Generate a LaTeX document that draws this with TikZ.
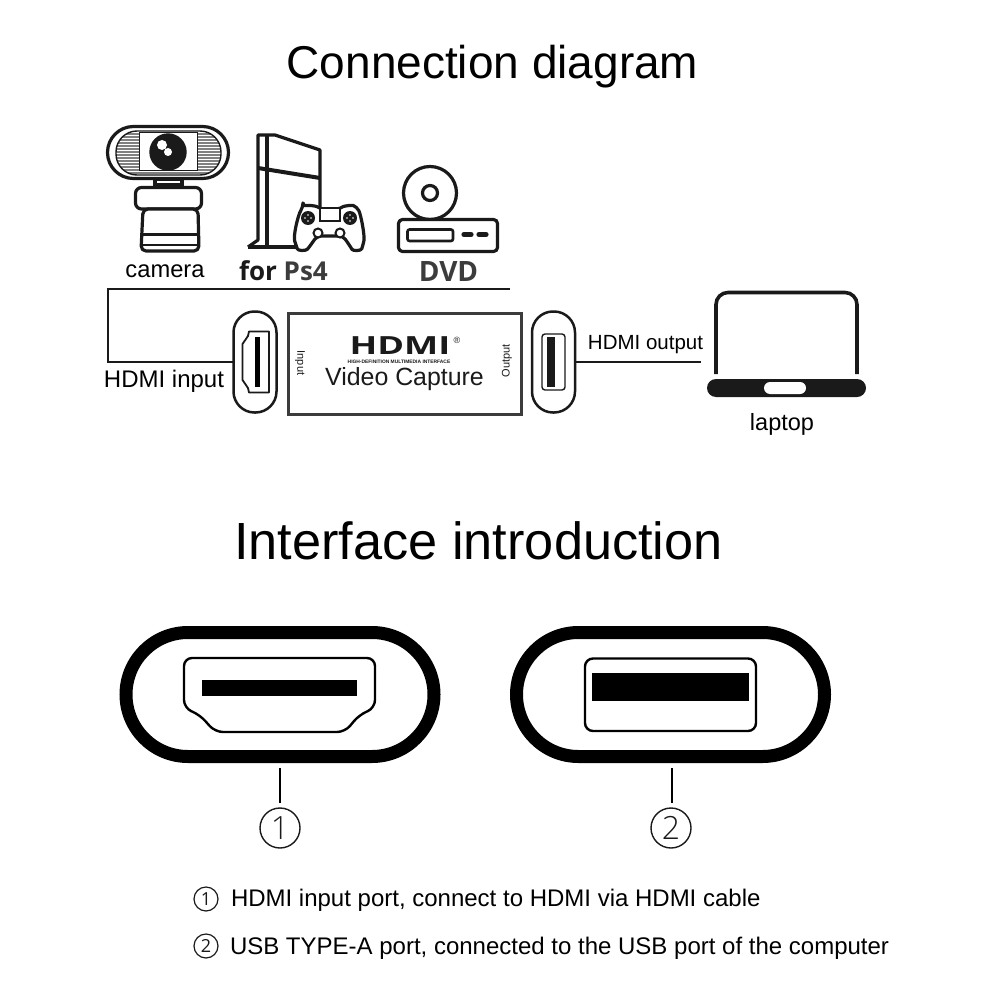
\documentclass[tikz,border=0pt]{standalone}
\usepackage{fontspec}
\setmainfont{Liberation Sans}
\newfontfamily\digitfont{Open Sans Light}
\newfontfamily\logofont{Open Sans}
\usetikzlibrary{shapes.misc}
\definecolor{ink}{HTML}{1A1A1A}
\definecolor{greyink}{HTML}{3C3C3C}
\newcommand{\px}[1]{\fontsize{\the\dimexpr#1pt/2\relax}{\the\dimexpr#1pt*3/5\relax}\selectfont}
\tikzset{
  lab/.style={inner sep=0pt,outer sep=0pt,text=black},
  pill/.style={rounded rectangle,draw=ink,fill=white,inner sep=0pt,outer sep=0pt},
  smallpill/.style={rectangle,rounded corners=10.5pt,draw=ink,fill=white,line width=1.25pt,inner sep=0pt,outer sep=0pt,minimum width=21.5pt,minimum height=50.5pt},
  bigpill/.style={rectangle,rounded corners=31pt,draw=black,fill=white,line width=6.5pt,inner sep=0pt,outer sep=0pt,minimum width=154pt,minimum height=62pt},
  wire/.style={draw=ink,line width=.7pt},
  leader/.style={draw=black,line width=1.1pt},
  icon/.style={draw=ink,line width=1.6pt,line join=round},
  numbig/.style={circle,draw=ink,line width=.7pt,inner sep=0pt,outer sep=0pt,minimum size=20pt,text=ink,font=\digitfont\px{32}},
  numsmall/.style={circle,draw=ink,line width=.6pt,inner sep=0pt,outer sep=0pt,minimum size=12pt,text=ink,font=\logofont\px{18}},
}
\begin{document}
\begin{tikzpicture}[x=.5pt,y=-.5pt]
\useasboundingbox (0,0) rectangle (1000,1000);
\fill[white] (0,0) rectangle (1000,1000);
% titles
\node[lab,font=\fontsize{23}{27}\selectfont] (title1) at (492.5,67) {Connection diagram};
\node[lab,font=\fontsize{26.15}{31}\selectfont] (title2) at (478.5,541) {Interface introduction};
% camera
\draw[icon] (155,179) rectangle (182,187);
\fill[ink] (155,183) rectangle (182,187);
\draw[icon,fill=white,rounded corners=13pt] (107.5,126.5) rectangle (228.5,178.5);
\begin{scope}
\clip[rounded corners=10.5pt] (116,131) rectangle (221,175);
\fill[white] (116,131) rectangle (221,175);
\foreach \yy in {134,137,...,173} \draw[gray,line width=.6pt] (116,\yy) -- (221,\yy);
\end{scope}
\draw[ink,line width=.7pt,rounded corners=10.5pt] (116,131) rectangle (221,175);
\draw[ink,line width=.5pt,fill=white] (139,133) rectangle (197,171);
\fill[ink] (168,152) circle (18.7);
\fill[white] (162,145) circle (5);
\fill[white] (168,152) circle (4);
\draw[icon,fill=white,rounded corners=3pt] (135.5,187.5) rectangle (201.5,209);
\draw[icon,fill=white,rounded corners=2.5pt] (143,209) -- (198,209) -- (199,251) -- (141,251) -- cycle;
\fill[ink] (143,233.5) rectangle (198,236.5);
\draw[ink,line width=.8pt] (142,245) -- (199,245);
% console
\draw[icon] (248,247) -- (258,240) -- (258,135) -- (275,135) -- (320,150) -- (320,215);
\draw[ink,line width=2.4pt] (267,135) -- (267,247);
\draw[ink,line width=2pt] (258,168) -- (320,178);
\draw[icon] (248,247) -- (300,247);
% controller
\draw[icon,fill=white,rounded corners=2pt]
  (303,207) .. controls (308,205) and (316,206) .. (320,209) -- (340,209)
  .. controls (344,206) and (352,205) .. (357,207)
  .. controls (361,215) and (365,236) .. (363,245)
  .. controls (361,251) and (353,251) .. (350,246)
  -- (343,236) -- (317,236) -- (310,246)
  .. controls (306,251) and (298,251) .. (296,245)
  .. controls (293,236) and (298,215) .. (303,207) -- cycle;
\draw[ink,line width=1pt,fill=white] (320,208) rectangle (340,221);
\fill[ink] (308,218) circle (7);
\fill[ink] (350,218) circle (7);
\foreach \cx in {308,350}{\foreach \dx/\dy in {-3/0,3/0,0/-3,0/3}{\fill[white] (\cx+\dx,218+\dy) circle (.9);}}
\draw[ink,line width=1pt,fill=white] (318,233) circle (4.5);
\draw[ink,line width=1pt,fill=white] (340,233) circle (4.5);
% dvd
\draw[icon,fill=white] (430,193) circle (26.5);
\draw[icon,fill=white] (430,193) circle (7.5);
\draw[icon,fill=white,rounded corners=2pt] (398.5,219.5) rectangle (497.5,251.5);
\draw[ink,line width=1.3pt,rounded corners=1pt,fill=white] (407.5,229.5) rectangle (453,241);
\draw[ink,line width=2.6pt,line cap=round] (464,234.5) -- (471,234.5);
\draw[ink,line width=2.6pt,line cap=round] (479,234.5) -- (486,234.5);
% device labels
\node[lab,font=\px{23.7}] (lcam) at (165,271) {camera};
\node[lab,anchor=base west,font=\logofont\bfseries\px{26},text=ink] (lps) at (239,280) {for \textcolor{greyink}{Ps4}};
\node[lab,anchor=base,font=\logofont\bfseries\px{28},text=greyink] (ldvd) at (448.5,281) {DVD};
% ports
\node[smallpill] (inport) at (255,362) {};
\node[smallpill] (outport) at (553.5,362) {};
\draw[ink,line width=.9pt,line join=round] (249,331.5) -- (269,331.5) -- (269,392.5) -- (249,392.5) -- (248,388) -- (242.5,380) -- (242.5,344) -- (248,336) -- cycle;
\fill[black] (255,337) rectangle (260,387);
\draw[ink,line width=.7pt,rounded corners=1.5pt] (542,334) rectangle (565,390);
\fill[ink] (547,337) rectangle (555,387);
% device
\node[rectangle,draw=greyink,line width=1.5pt,fill=white,minimum width=116.5pt,minimum height=50.5pt,inner sep=0pt,outer sep=0pt] (capture) at (404.5,363.5) {};
\node[lab,font=\logofont\bfseries\px{25},xscale=1.45,text=ink] (hdmilogo) at (400,345.5) {HDMI};
\node[lab,font=\px{9},text=ink] (reg) at (457,340) {®};
\node[lab,font=\bfseries\px{4.9},text=ink] (hdmisub) at (399,361.5) {HIGH-DEFINITION MULTIMEDIA INTERFACE};
\node[lab,font=\px{24.9},text=ink] (vcap) at (404.5,379) {Video Capture};
\node[lab,font=\px{11},rotate=-90,text=ink] (linput) at (300,363) {Input};
\node[lab,font=\px{11},rotate=90,text=ink] (loutput) at (507,361) {Output};
% laptop
\draw[ink,line width=1.8pt,rounded corners=6pt] (716,374) -- (716,292.5) -- (857,292.5) -- (857,374);
\fill[ink,rounded corners=4.5pt] (707,379) rectangle (866,397);
\node[pill,draw=none,fill=white,minimum width=21pt,minimum height=6pt] (notch) at (785,388) {};
\coordinate (cout) at (701,362);
\coordinate (ca) at (108,362);
\coordinate (cb) at (108,289);
\coordinate (cc) at (510,289);
\draw[wire] (inport.west) -- (ca) -- (cb) -- (cc);
\draw[wire] (outport.east) -- (cout);
\node[lab,font=\px{24},anchor=base] (linp) at (164,387) {HDMI input};
\node[lab,font=\px{20.5},anchor=base] (lout) at (645.5,349) {HDMI output};
\node[lab,font=\px{23.5},anchor=base] (llap) at (782,430) {laptop};
% big ports
\node[bigpill] (bigA) at (280,694.5) {};
\node[bigpill] (bigB) at (670.5,694.5) {};
\draw[black,line width=1.2pt,line join=round,rounded corners=4pt]
  (184,658) -- (375,658) -- (375,708) -- (359,715) -- (345,732) -- (215,732) -- (200,715) -- (184,708) -- cycle;
\fill[black] (202,680) rectangle (357,696);
\draw[black,line width=1.2pt,rounded corners=4pt] (585,658.5) rectangle (756,731);
\fill[black] (592,673) rectangle (749,701);
\node[numbig] (numA) at (280,828) {1};
\node[numbig] (numB) at (671,828) {2};
\draw[leader] ([yshift=-5.75pt]bigA.south) -- ([yshift=2.5pt]numA.north);
\draw[leader] ([xshift=.75pt,yshift=-5.75pt]bigB.south) -- ([xshift=.5pt,yshift=2.5pt]numB.north);
% notes
\node[numsmall] (n1) at (206,899) {1};
\node[numsmall] (n2) at (206,946) {2};
\node[lab,anchor=base west,font=\px{24}] (t1) at (231,906) {HDMI input port, connect to HDMI via HDMI cable};
\node[lab,anchor=base west,font=\px{24}] (t2) at (230,954) {USB TYPE-A port, connected to the USB port of the computer};
\end{tikzpicture}
\end{document}
